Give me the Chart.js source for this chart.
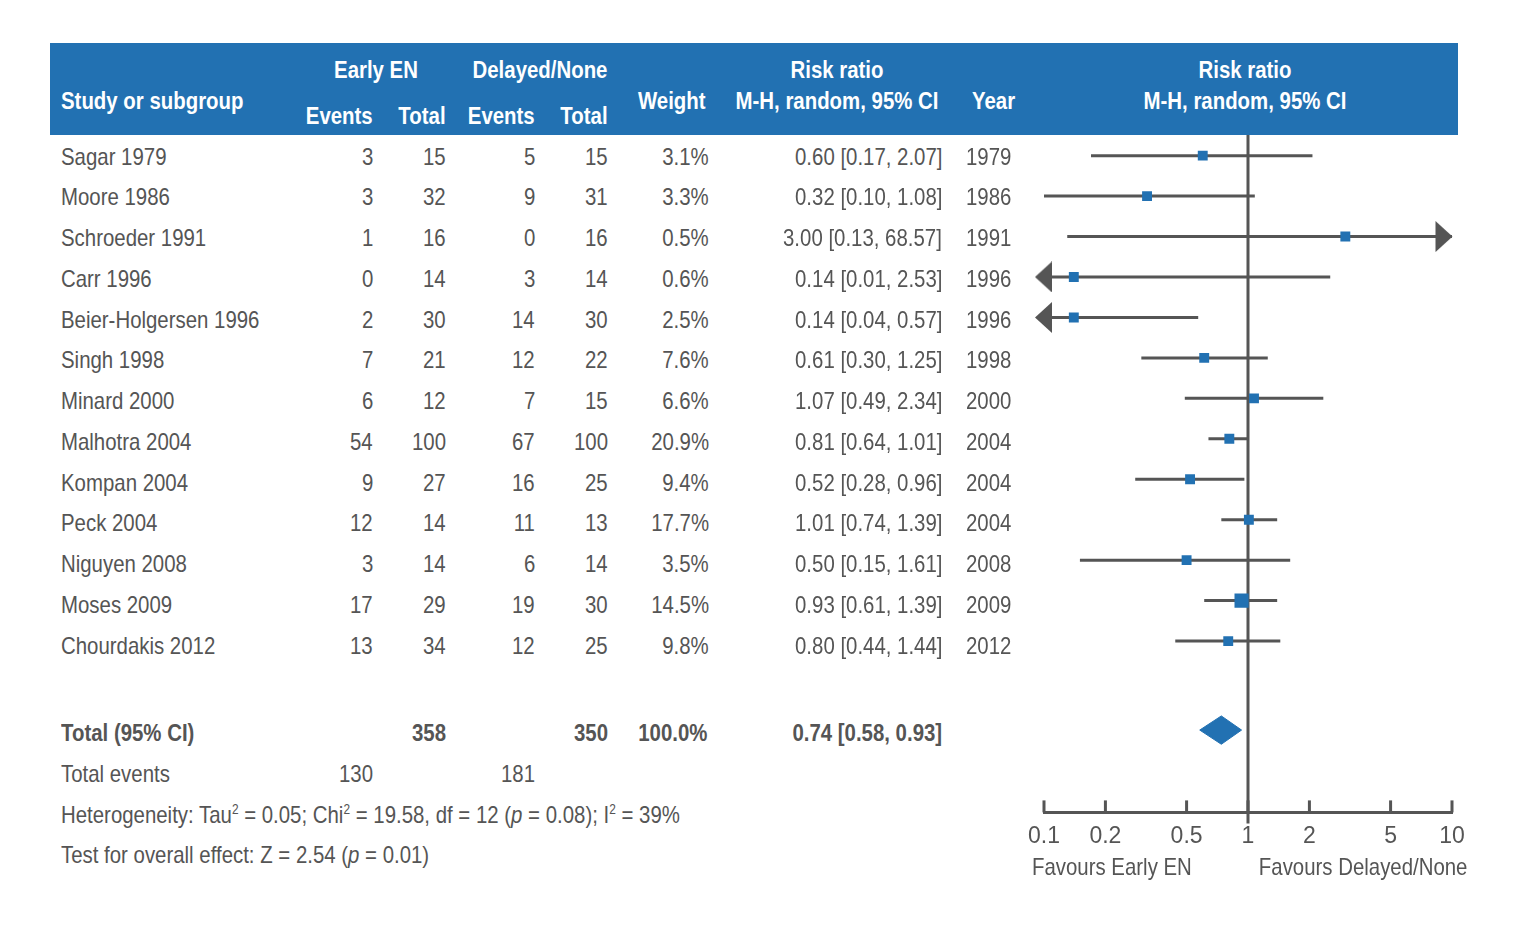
<!DOCTYPE html>
<html>
<head>
<meta charset="utf-8">
<title>Forest plot</title>
<script src="https://cdn.jsdelivr.net/npm/chart.js@4.4.0/dist/chart.umd.min.js"></script>
<style>
  body { margin: 0; background: #fff; }
  #page { position: relative; width: 1518px; height: 930px; overflow: hidden;
          font-family: 'Liberation Sans', Arial, sans-serif;
          font-size: 24px; color: #555; }
  #head { position: absolute; left: 50px; top: 43px; width: 1408px; height: 92px; background: #2271b2; }
  .t { position: absolute; height: 30px; line-height: 30px; white-space: nowrap; }
  .h { color: #fff; font-weight: bold; }
  .b { font-weight: bold; }
  sup { font-size: 14px; line-height: 0; vertical-align: 9px; }
  #plot { position: absolute; left: 1000px; top: 120px; width: 500px; height: 740px; }
</style>
</head>
<body>
<div id="page">
  <div id="head"></div>
  <div id="plot"><canvas id="forest"></canvas></div>
</div>
<script>
var studies = ["Sagar 1979", "Moore 1986", "Schroeder 1991", "Carr 1996", "Beier-Holgersen 1996",
               "Singh 1998", "Minard 2000", "Malhotra 2004", "Kompan 2004", "Peck 2004",
               "Niguyen 2008", "Moses 2009", "Chourdakis 2012"];
var earlyEvents   = [3, 3, 1, 0, 2, 7, 6, 54, 9, 12, 3, 17, 13];
var earlyTotal    = [15, 32, 16, 14, 30, 21, 12, 100, 27, 14, 14, 29, 34];
var delayedEvents = [5, 9, 0, 3, 14, 12, 7, 67, 16, 11, 6, 19, 12];
var delayedTotal  = [15, 31, 16, 14, 30, 22, 15, 100, 25, 13, 14, 30, 25];
var weights = [3.1, 3.3, 0.5, 0.6, 2.5, 7.6, 6.6, 20.9, 9.4, 17.7, 3.5, 14.5, 9.8];
var riskRatio = [0.60, 0.32, 3.00, 0.14, 0.14, 0.61, 1.07, 0.81, 0.52, 1.01, 0.50, 0.93, 0.80];
var ciLow  = [0.17, 0.10, 0.13, 0.01, 0.04, 0.30, 0.49, 0.64, 0.28, 0.74, 0.15, 0.61, 0.44];
var ciHigh = [2.07, 1.08, 68.57, 2.53, 0.57, 1.25, 2.34, 1.01, 0.96, 1.39, 1.61, 1.39, 1.44];
var years = [1979, 1986, 1991, 1996, 1996, 1998, 2000, 2004, 2004, 2004, 2008, 2009, 2012];

var totalEarly = 358, totalDelayed = 350;
var totalEventsEarly = 130, totalEventsDelayed = 181;
var totalRR = 0.74, totalLow = 0.58, totalHigh = 0.93;
var tickValues = [0.1, 0.2, 0.5, 1, 2, 5, 10];

// style / layout
var blue = '#2271b2', grey = '#555';
var fontStack = "'Liberation Sans', Arial, sans-serif";
var squeeze = 0.85;   // narrow look of the original type
var boxRadius = [7, 7, 7, 7, 7, 7, 7, 7, 7, 7, 7, 10, 7];
var xMin = 0.1, xMax = 10;
var rowTop = -0.51, rowBottom = 16.235, refLineEnd = 16.51;
var totalRow = 14.2, diamondHalf = 0.35;

var page = document.getElementById('page');
function put(text, x, y, align, cls) {
    var d = document.createElement('div');
    d.className = 't' + (cls ? ' ' + cls : '');
    d.innerHTML = text;
    d.style.top = (y - 15) + 'px';
    if (align == 'right') {
        d.style.right = (1518 - x) + 'px';
        d.style.transformOrigin = 'right center';
    } else if (align == 'center') {
        d.style.left = (x - 200) + 'px';
        d.style.width = '400px';
        d.style.textAlign = 'center';
        d.style.transformOrigin = 'center center';
    } else {
        d.style.left = x + 'px';
        d.style.transformOrigin = 'left center';
    }
    d.style.transform = 'scaleX(' + squeeze + ')';
    page.appendChild(d);
}

// header
put('Study or subgroup', 61, 101, 'left', 'h');
put('Early EN', 376, 70, 'center', 'h');
put('Events', 373, 116, 'right', 'h');
put('Total', 446, 116, 'right', 'h');
put('Delayed/None', 540, 70, 'center', 'h');
put('Events', 535, 116, 'right', 'h');
put('Total', 608, 116, 'right', 'h');
put('Weight', 706, 101, 'right', 'h');
put('Risk ratio', 837, 70, 'center', 'h');
put('M-H, random, 95% CI', 837, 101, 'center', 'h');
put('Year', 972, 101, 'left', 'h');
put('Risk ratio', 1245, 70, 'center', 'h');
put('M-H, random, 95% CI', 1245, 101, 'center', 'h');

// study rows
for (var i = 0; i < studies.length; i++) {
    var y = 156.7 + 40.75 * i;
    put(studies[i], 61, y, 'left');
    put(earlyEvents[i], 373, y, 'right');
    put(earlyTotal[i], 446, y, 'right');
    put(delayedEvents[i], 535, y, 'right');
    put(delayedTotal[i], 608, y, 'right');
    put(weights[i].toFixed(1) + '%', 709, y, 'right');
    put(riskRatio[i].toFixed(2) + ' [' + ciLow[i].toFixed(2) + ', ' + ciHigh[i].toFixed(2) + ']', 942, y, 'right');
    put(years[i], 966, y, 'left');
}

// totals
put('Total (95% CI)', 61, 733, 'left', 'b');
put(totalEarly, 446, 733, 'right', 'b');
put(totalDelayed, 608, 733, 'right', 'b');
put('100.0%', 707, 733, 'right', 'b');
put(totalRR.toFixed(2) + ' [' + totalLow.toFixed(2) + ', ' + totalHigh.toFixed(2) + ']', 942, 733, 'right', 'b');
put('Total events', 61, 774, 'left');
put(totalEventsEarly, 373, 774, 'right');
put(totalEventsDelayed, 535, 774, 'right');
put('Heterogeneity: Tau<sup>2</sup> = 0.05; Chi<sup>2</sup> = 19.58, df = 12 (<i>p</i> = 0.08); I<sup>2</sup> = 39%', 61, 815, 'left');
put('Test for overall effect: Z = 2.54 (<i>p</i> = 0.01)', 61, 855, 'left');
put('Favours Early EN', 1032, 867, 'left');
put('Favours Delayed/None', 1467, 867, 'right');

// arrow heads for intervals running off the axis
function arrowImage(dir) {
    var c = document.createElement('canvas');
    c.width = 34;
    c.height = 31;
    var g = c.getContext('2d');
    g.fillStyle = grey;
    g.beginPath();
    if (dir > 0) {
        g.moveTo(17.5, 15.5); g.lineTo(0.5, 0); g.lineTo(0.5, 31);
    } else {
        g.moveTo(8, 15.5); g.lineTo(25, 0); g.lineTo(25, 31);
    }
    g.closePath();
    g.fill();
    return c;
}

var datasets = [];

// studies: boxes
datasets.push({
    data: riskRatio.map(function(v, i) { return {x: v, y: i}; }),
    showLine: false,
    pointStyle: 'rect',
    pointRadius: boxRadius,
    pointBackgroundColor: blue,
    pointBorderWidth: 0,
    order: 0
});

// pooled diamond
datasets.push({
    data: [
        {x: totalLow, y: totalRow},
        {x: totalRR, y: totalRow - diamondHalf},
        {x: totalHigh, y: totalRow},
        {x: totalRR, y: totalRow + diamondHalf},
        {x: totalLow, y: totalRow}
    ],
    borderColor: blue,
    borderWidth: 1,
    backgroundColor: blue,
    fill: 'shape',
    pointRadius: 0,
    order: 0
});

// confidence intervals
for (var i = 0; i < studies.length; i++) {
    datasets.push({
        data: [{x: Math.max(ciLow[i], xMin), y: i}, {x: Math.min(ciHigh[i], xMax), y: i}],
        borderColor: grey,
        borderWidth: 3,
        pointRadius: 0,
        order: 2
    });
}

var leftOff = [], rightOff = [];
for (var i = 0; i < studies.length; i++) {
    if (ciLow[i] < xMin) leftOff.push({x: xMin, y: i});
    if (ciHigh[i] > xMax) rightOff.push({x: xMax, y: i});
}
datasets.push({ data: leftOff, showLine: false, pointStyle: arrowImage(-1), clip: false, order: 1 });
datasets.push({ data: rightOff, showLine: false, pointStyle: arrowImage(1), clip: false, order: 1 });

// line of no effect
datasets.push({
    data: [{x: 1, y: rowTop}, {x: 1, y: refLineEnd}],
    borderColor: grey,
    borderWidth: 3,
    pointRadius: 0,
    clip: false,
    order: 3
});

var tickMarks = {
    id: 'tickMarks',
    afterDraw: function(chart) {
        var sx = chart.scales.x, ctx = chart.ctx, yb = chart.chartArea.bottom;
        ctx.save();
        ctx.strokeStyle = grey;
        ctx.lineWidth = 3;
        tickValues.forEach(function(v) {
            var px = sx.getPixelForValue(v);
            ctx.beginPath();
            ctx.moveTo(px, yb - 12);
            ctx.lineTo(px, yb);
            ctx.stroke();
        });
        ctx.restore();
    }
};

Chart.defaults.font.family = fontStack;
Chart.defaults.color = grey;

new Chart(document.getElementById('forest'), {
    type: 'line',
    data: { datasets: datasets },
    plugins: [tickMarks],
    options: {
        responsive: true,
        maintainAspectRatio: false,
        animation: false,
        events: [],
        layout: { padding: { left: 44, right: 48, top: 15, bottom: 0 } },
        plugins: { legend: { display: false }, tooltip: { enabled: false } },
        elements: { line: { tension: 0 } },
        scales: {
            x: {
                type: 'logarithmic',
                min: xMin,
                max: xMax,
                afterBuildTicks: function(axis) {
                    axis.ticks = tickValues.map(function(v) { return {value: v}; });
                },
                ticks: {
                    autoSkip: false,
                    maxRotation: 0,
                    padding: 10,
                    color: grey,
                    font: { size: 23 },
                    callback: function(v) { return String(v); }
                },
                grid: { display: false, drawTicks: false },
                border: { display: true, color: grey, width: 3 }
            },
            y: {
                type: 'linear',
                reverse: true,
                min: rowTop,
                max: rowBottom,
                display: false
            }
        }
    }
});
</script>
</body>
</html>
